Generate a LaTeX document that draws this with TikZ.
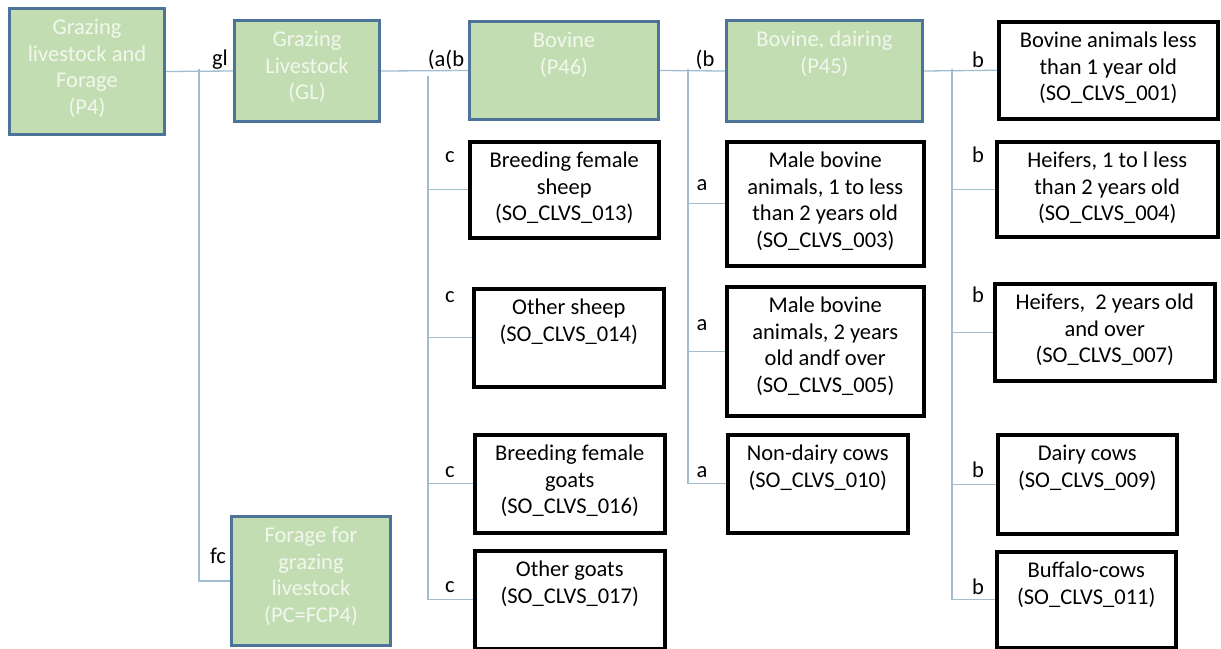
\documentclass[tikz,border=0pt]{standalone}
\usepackage{fontspec}
\setmainfont{Carlito}
\usepackage{xcolor}
\usepackage{tikz}
\usetikzlibrary{calc}
\definecolor{leafgreen}{HTML}{C3DDB2}
\definecolor{edgeblue}{HTML}{4E7398}
\definecolor{wire}{HTML}{A2BDD0}
\definecolor{pale}{HTML}{F2F7EE}
\newcommand{\boxfont}{\fontsize{22.5}{26.5}\selectfont}
\newcommand{\boxtxt}[3]{\parbox[c][#2][t]{#1}{\centering\rule{0pt}{26pt}#3}}
\tikzset{
  grp/.style={draw=edgeblue, line width=3pt, fill=leafgreen, text=pale,
    inner sep=0pt, anchor=north west, font=\boxfont},
  item/.style={draw=black, line width=3.5pt, fill=white, text=black,
    inner sep=0pt, anchor=north west, font=\boxfont},
  conn/.style={draw=wire, line width=1.3pt},
  tag/.style={text=black, font=\boxfont, inner sep=0pt},
}

\begin{document}
\begin{tikzpicture}[x=1pt, y=-1pt]
  \useasboundingbox (0,0) rectangle (1221,648);

  % group boxes
  \node[grp] (P4)  at (8,7)     {\boxtxt{155pt}{126pt}{Grazing\\livestock and\\Forage\\(P4)}};
  \node[grp] (GL)  at (233,19)  {\boxtxt{145pt}{101pt}{Grazing\\Livestock\\(GL)}};
  \node[grp] (P46) at (468,20)  {\boxtxt{189pt}{98pt}{Bovine\\(P46)}};
  \node[grp] (P45) at (725,19)  {\boxtxt{196pt}{101pt}{Bovine, dairing\\(P45)}};
  \node[grp] (FC)  at (230,515) {\boxtxt{159pt}{129pt}{Forage for\\grazing\\livestock\\(PC=FCP4)}};

  % sheep and goats
  \node[item] (S13) at (468,140) {\boxtxt{189pt}{96pt}{Breeding female\\sheep\\(SO\_CLVS\_013)}};
  \node[item] (S14) at (472,287) {\boxtxt{190pt}{98pt}{Other sheep\\(SO\_CLVS\_014)}};
  \node[item] (G16) at (473,433) {\boxtxt{190pt}{98pt}{Breeding female\\goats\\(SO\_CLVS\_016)}};
  \node[item] (G17) at (473,549) {\boxtxt{190pt}{98pt}{Other goats\\(SO\_CLVS\_017)}};

  % bovine
  \node[item] (M03) at (725,140) {\boxtxt{197pt}{124pt}{Male bovine\\animals, 1 to less\\than 2 years old\\(SO\_CLVS\_003)}};
  \node[item] (M05) at (725,285) {\boxtxt{197pt}{129pt}{Male bovine\\animals, 2 years\\old andf over\\(SO\_CLVS\_005)}};
  \node[item] (N10) at (726,433) {\boxtxt{180pt}{98pt}{Non-dairy cows\\(SO\_CLVS\_010)}};

  % dairy
  \node[item] (B01) at (997,20)  {\boxtxt{219pt}{97pt}{Bovine animals less\\than 1 year old\\(SO\_CLVS\_001)}};
  \node[item] (H04) at (995,140) {\boxtxt{221pt}{95pt}{Heifers, 1 to l less\\than 2 years old\\(SO\_CLVS\_004)}};
  \node[item] (H07) at (993,282) {\boxtxt{220pt}{97pt}{Heifers,\ \ 2 years old\\and over\\(SO\_CLVS\_007)}};
  \node[item] (D09) at (996,433) {\boxtxt{179pt}{99pt}{Dairy cows\\(SO\_CLVS\_009)}};
  \node[item] (F11) at (995,550) {\boxtxt{179pt}{96pt}{Buffalo-cows\\(SO\_CLVS\_011)}};

  % trunks
  \coordinate (t1) at (199,69);
  \coordinate (t2) at (428,76);
  \coordinate (t3) at (688,69);
  \coordinate (t4) at (952,69);

  \draw[conn] (P4.east) -- (GL.west);
  \draw[conn] (t1) |- (FC.west);
  \draw[conn] (GL.east) -- (P46.west);
  \foreach \n in {S13,S14,G16,G17}
    \draw[conn] (t2) |- (\n.west);
  \draw[conn] (P46.east) -- (P45.west);
  \foreach \n in {M03,M05,N10}
    \draw[conn] (t3) |- (\n.west);
  \draw[conn] (P45.east) -- (B01.west);
  \foreach \n in {H04,H07,D09,F11}
    \draw[conn] (t4) |- (\n.west);

  % branch tags
  \node[tag] (lgl) at (220,60) {gl};
  \node[tag] (lfc) at (218,556) {fc};
  \node[tag] (lab) at (446,60) {(a(b};
  \node[tag] (lb)  at (705,60) {(b};
  \foreach \y [count=\i] in {157,297,472,587}
    \node[tag] (lc\i) at (450,\y) {c};
  \foreach \y [count=\i] in {185,325,472}
    \node[tag] (la\i) at (702,\y) {a};
  \foreach \y [count=\i] in {60,155,295,470,587}
    \node[tag] (lb\i) at (978,\y) {b};
\end{tikzpicture}
\end{document}
